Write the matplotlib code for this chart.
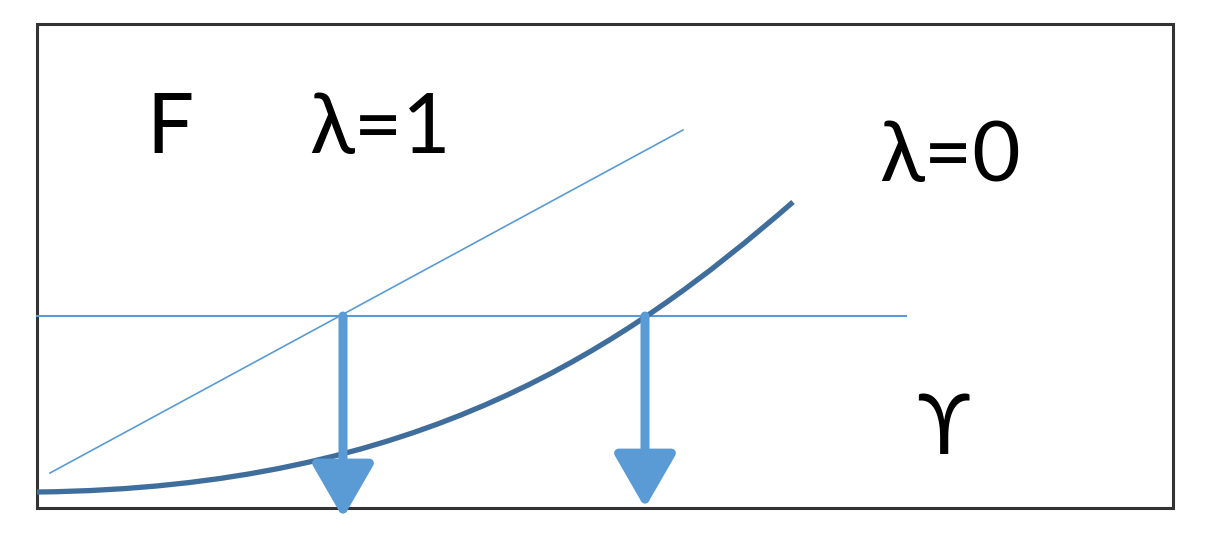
import numpy as np
import matplotlib.pyplot as plt
from matplotlib.patches import Rectangle, PathPatch
from matplotlib.path import Path

# Data (picture coordinates, y grows downwards)
line1_x = [50, 683]
line1_y = [473, 130]
# lambda=0 curve as a cubic bezier: start, two control points, end
curve_x = [37, 420, 625, 793]
curve_y = [492, 488, 348, 202]
level_y = 316
level_x = [37, 906]
arrow_x = [343, 645]
arrow_top = [316, 316]
arrow_bottom = [518, 508]
labels = ['F', 'λ=1', 'λ=0', 'ϒ']
label_x = [170, 380, 950, 943]
label_y = [130, 130, 158, 431]

blue = '#5b9bd5'
dark = '#3f6d9c'

fig = plt.figure(figsize=(12.05, 5.38), dpi=100)
ax = fig.add_axes([0, 0, 1, 1])
ax.set_xlim(0, 1205)
ax.set_ylim(538, 0)
ax.axis('off')

# frame
ax.add_patch(Rectangle((37, 24), 1136, 484, fill=False, ec='#333333', lw=2.2, zorder=1))

ax.plot(line1_x, line1_y, color=blue, lw=1.2, zorder=2)
ax.plot(level_x, [level_y, level_y], color=blue, lw=1.5, zorder=2)

curve = Path(list(zip(curve_x, curve_y)),
             [Path.MOVETO, Path.CURVE4, Path.CURVE4, Path.CURVE4])
ax.add_patch(PathPatch(curve, fill=False, ec=dark, lw=3.8, zorder=3))

# arrows down to the Y axis
for xa, yt, yb in zip(arrow_x, arrow_top, arrow_bottom):
    ax.annotate('', xy=(xa, yb), xytext=(xa, yt),
                arrowprops=dict(arrowstyle='-|>,head_length=3.3,head_width=1.9',
                                color=blue, lw=6.5, shrinkA=0, shrinkB=0),
                zorder=4)

for t, xt, yt in zip(labels, label_x, label_y):
    ax.text(xt, yt, t, fontsize=60, ha='center', va='center',
            family=['Lato', 'DejaVu Sans'], color='black')

fig.savefig('out.png', dpi=100)
